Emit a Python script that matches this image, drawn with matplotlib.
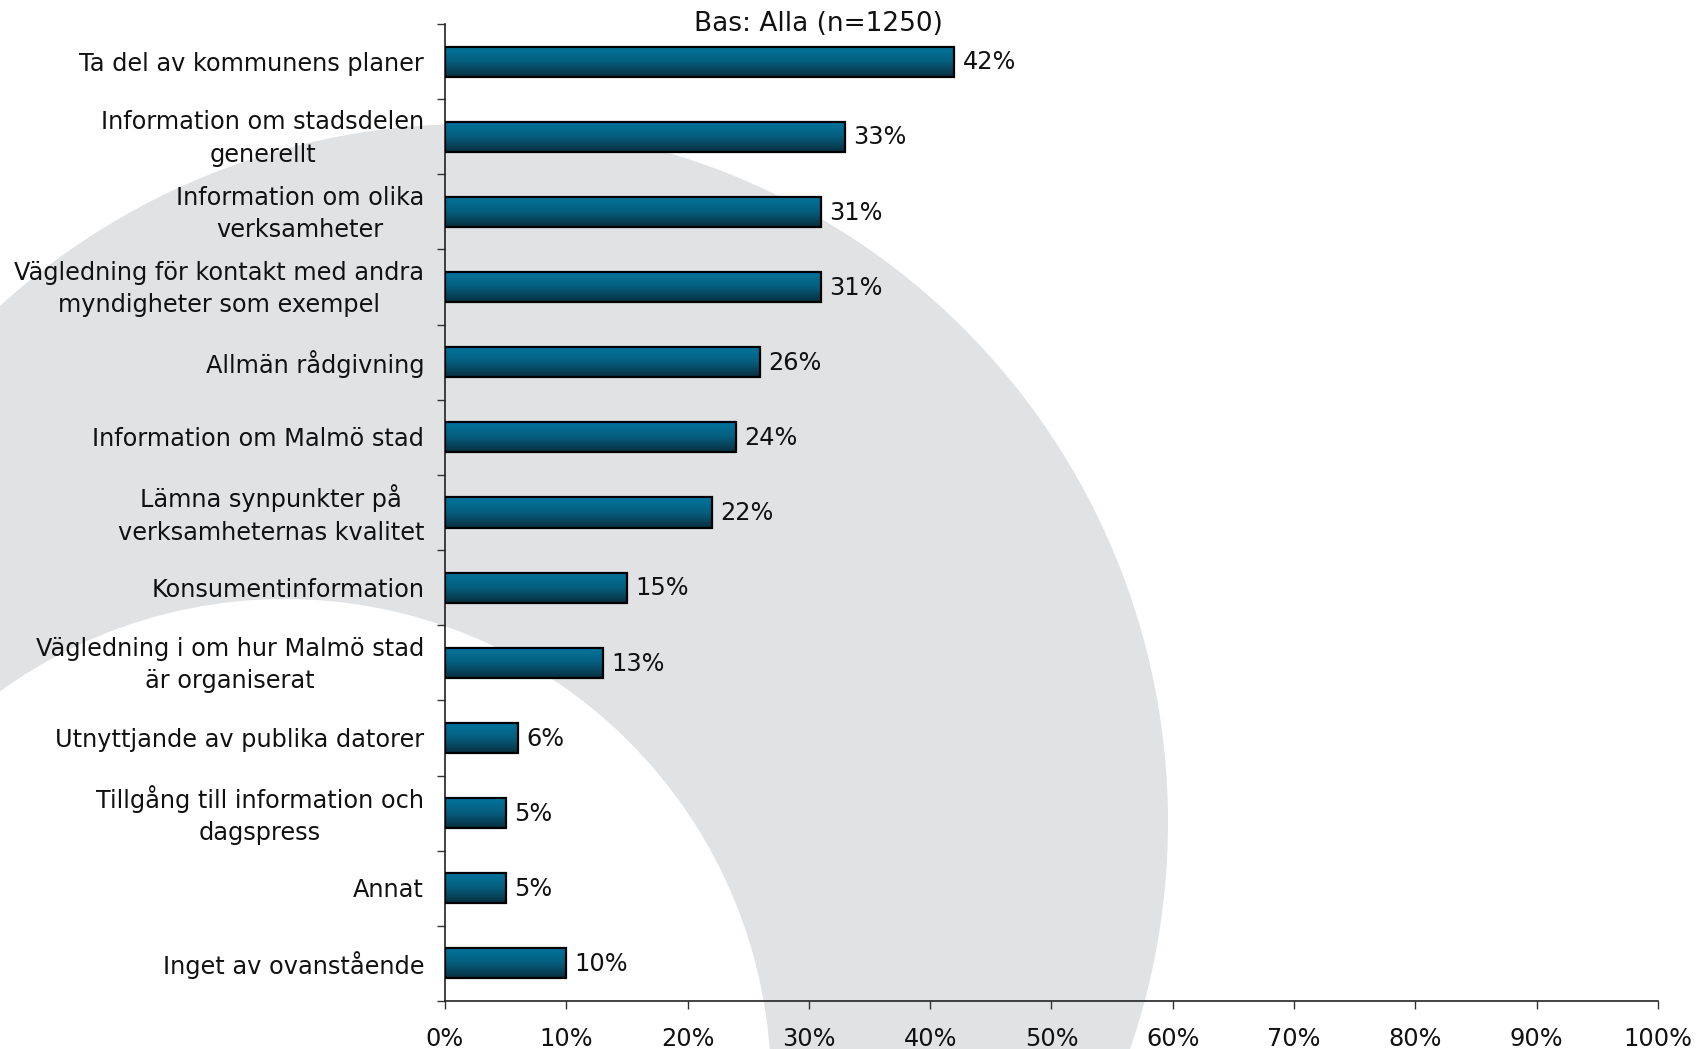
import numpy as np
import matplotlib
matplotlib.use("Agg")
import matplotlib.pyplot as plt
import matplotlib.transforms as mtransforms
from matplotlib.patches import Circle
from matplotlib.colors import LinearSegmentedColormap

categories = [
    "Ta del av kommunens planer",
    "Information om stadsdelen\ngenerellt",
    "Information om olika\nverksamheter",
    "Vägledning för kontakt med andra\nmyndigheter som exempel",
    "Allmän rådgivning",
    "Information om Malmö stad",
    "Lämna synpunkter på\nverksamheternas kvalitet",
    "Konsumentinformation",
    "Vägledning i om hur Malmö stad\när organiserat",
    "Utnyttjande av publika datorer",
    "Tillgång till information och\ndagspress",
    "Annat",
    "Inget av ovanstående",
]
values = [42, 33, 31, 31, 26, 24, 22, 15, 13, 6, 5, 5, 10]
xticks = [0, 10, 20, 30, 40, 50, 60, 70, 80, 90, 100]
xtick_labels = [f"{t}%" for t in xticks]
title = "Bas: Alla (n=1250)"

W, H = 1699, 1049
fig = plt.figure(figsize=(W / 100, H / 100), dpi=100)
plt.rcParams['font.family'] = ['DejaVu Sans']

# decorative background ring
bg = fig.add_axes([0, 0, 1, 1], zorder=0)
bg.set_xlim(0, W)
bg.set_ylim(H, 0)
bg.axis("off")
bg.add_patch(Circle((470, 822), 698, facecolor="#E1E2E4", edgecolor="none"))
bg.add_patch(Circle((285, 1085), 486, facecolor="white", edgecolor="none"))

left, right = 445 / W, 1658 / W
bottom, top = 1 - 1001 / H, 1 - 24 / H
ax = fig.add_axes([left, bottom, right - left, top - bottom], zorder=1)
ax.patch.set_alpha(0)

n = len(categories)
ypos = np.arange(n)[::-1]
bar_h = 0.40
fs = 17.3

cmap = LinearSegmentedColormap.from_list(
    "bar", ["#00769E", "#065E7E", "#082F3F"])
grad = np.linspace(0, 1, 64).reshape(-1, 1)

bars = ax.barh(ypos, values, height=bar_h, facecolor="none",
               edgecolor="black", linewidth=1.6, zorder=3)
for b, v, y in zip(bars, values, ypos):
    ax.imshow(grad, cmap=cmap, aspect="auto",
              extent=[0, v, y - bar_h / 2, y + bar_h / 2],
              origin="upper", zorder=2, interpolation="bilinear")
    ax.annotate(f"{v}%", xy=(v, y), xytext=(6, -0.5), textcoords="offset points",
                ha="left", va="center", fontsize=fs, color="#111111")

ax.set_xlim(0, 100)
ax.set_ylim(-0.5, n - 0.5)

ax.set_xticks(xticks)
ax.set_xticklabels(xtick_labels, fontsize=fs, color="#111111")
ax.tick_params(axis="x", length=6, width=1, color="#333333", pad=13,
               direction="out")

ax.set_yticks(np.arange(-0.5, n, 1.0))
ax.set_yticklabels([])
ax.tick_params(axis="y", which="major", length=6, width=1, color="#333333",
               direction="out")
ax.set_yticks(ypos, minor=True)
ax.set_yticklabels(categories, minor=True, fontsize=fs, color="#111111",
                   multialignment="center", linespacing=1.45)
ax.tick_params(axis="y", which="minor", length=0, pad=15)
shift = mtransforms.ScaledTranslation(0, -2 / 100, fig.dpi_scale_trans)
for tick in ax.yaxis.get_minor_ticks():
    tick.label1.set_verticalalignment("center")
    tick.label1.set_transform(tick.label1.get_transform() + shift)

for s in ["top", "right"]:
    ax.spines[s].set_visible(False)
for s in ["left", "bottom"]:
    ax.spines[s].set_color("#222222")
    ax.spines[s].set_linewidth(1.2)

fig.text(818 / W, 1 - 24 / H, title, ha="center", va="center",
         fontsize=19, color="#111111")

fig.savefig("out.png", dpi=100)
